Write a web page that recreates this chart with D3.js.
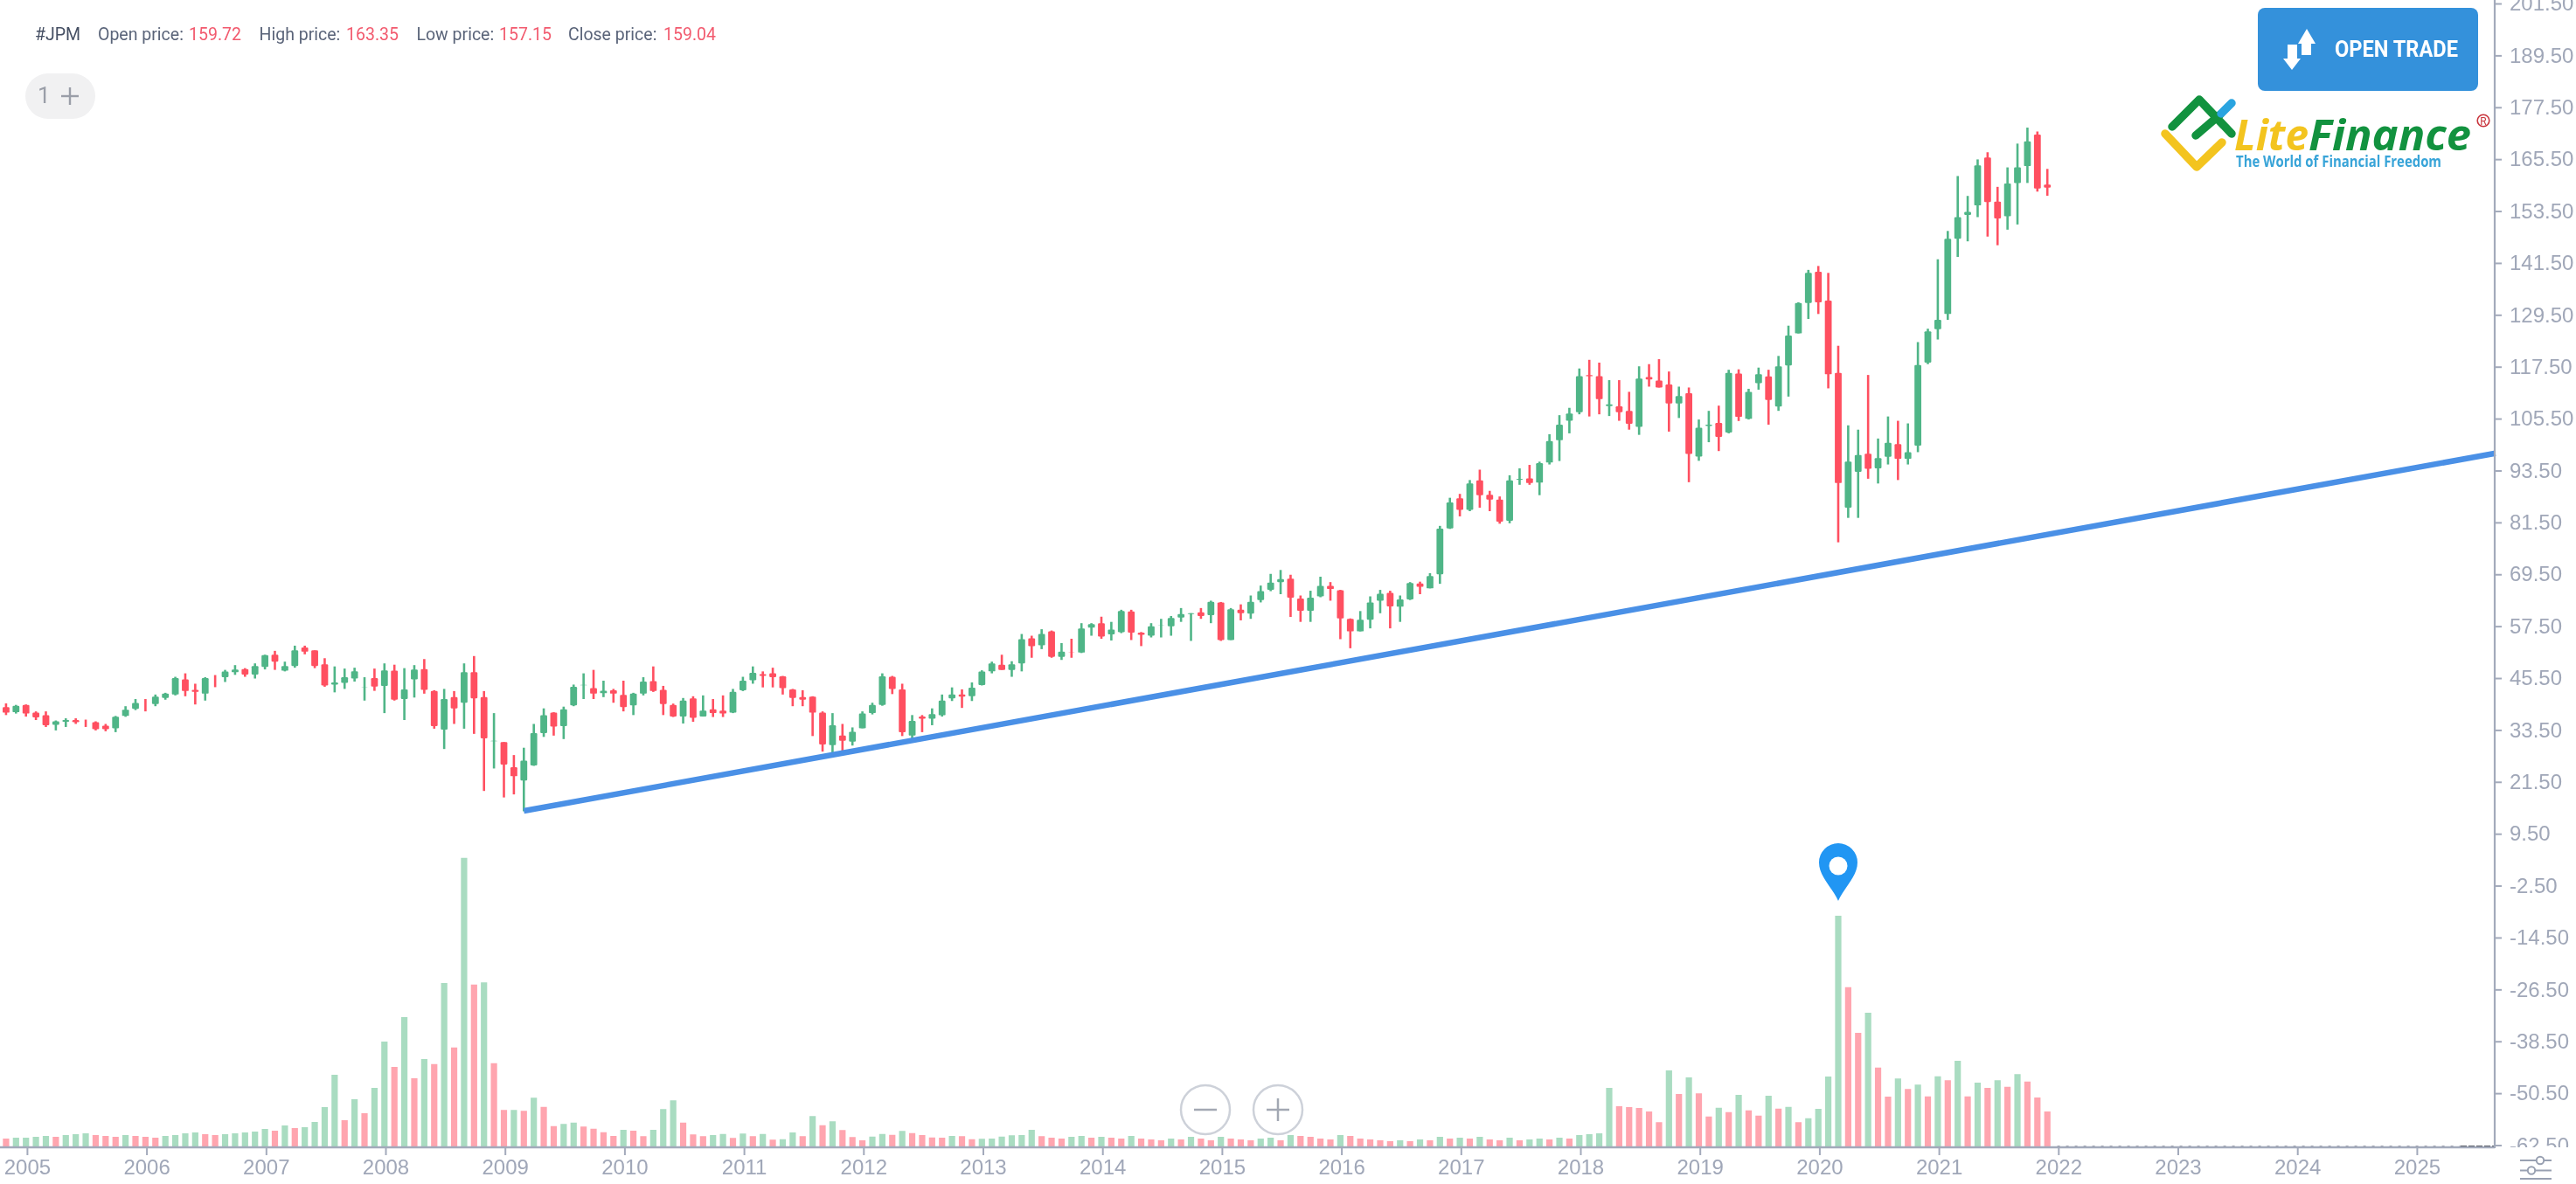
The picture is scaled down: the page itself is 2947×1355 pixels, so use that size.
<!DOCTYPE html>
<html><head><meta charset="utf-8">
<script src="https://cdn.jsdelivr.net/npm/d3@7"></script>
<style>html,body{margin:0;padding:0;background:#fff;overflow:hidden}svg{display:block;filter:blur(0.45px)}</style>
</head><body><svg id="c" width="2947" height="1355"></svg>
<script>
const firstMonth = '2004-10';
const opens = [39.95,38.9,37.7,
39.4,37.6,37,34.8,35.5,35.9,35.2,35.4,34.6,34,36.85,38.5,
39.5,39.6,41,41.8,45.3,42.9,42,45,45.8,46.95,47.7,46.4,
48.2,51,47.3,48.4,52.7,52,48.8,44.1,44.5,45.5,43.4,45.6,
43.8,47.3,40.75,45.3,47.7,42.6,33.7,41.2,39.9,46.95,41.2,31,
30.8,25,21.9,25.4,32.9,37.6,34.5,39.3,43.95,43.3,42.1,42.8,
41.7,39.3,42,44.9,42.9,39.4,36.7,40.9,36.7,38.4,38.06,37.6,
42.8,45.1,46.5,46.7,46,43,41.2,41.3,37.6,30.1,32.3,30.9,
34,37.5,39.4,45.9,43,32.3,36.7,36.2,37,40.9,41.8,41.4,
44,47.15,48.7,47.5,49,54.8,53.2,56.4,50.5,51.5,51.5,57.25,
58.3,55.7,56.2,61,56.1,55.4,57.8,57.6,59.6,60.4,60.8,60.15,
63.1,54.4,61.4,60.5,63.65,66,67.8,68.6,64,61.15,64.5,66.9,
65.9,59.3,56.4,59.1,63.5,65.3,62.1,63.8,67.5,66.35,69.6,80.2,
87.2,84.5,91.3,88,86.9,82,91.5,91.8,90.8,95.45,100.6,105.1,
107.1,115.65,115.4,108.5,108.45,107.4,103.7,115.2,114.4,113.5,109.1,111.5,
96.85,103.9,104.6,102.4,116.05,105.55,113.8,115.35,108.4,117.9,125.3,132.35,
139.55,132.9,116.2,85,93.3,97.5,94.1,96.8,99.7,96.3,99.35,118.55,
126.3,129.8,147.2,152.7,154.9,166,155.8,152.4,160.1,164,171.3,159.72];
const highs = [40.1,39.75,39.4,
39.5,37.9,37.9,35.8,36.3,36.3,36,35.6,35,36.85,39.1,40.75,
40.75,41.8,42.2,45.9,46.7,44.3,45.8,46.3,47.5,48.6,47.9,49,
51,51.9,49.4,53.1,53.1,52,50.2,48.3,47.8,48,45.8,47.8,
49,48.7,47.9,48.6,50,42.8,43.1,42.6,49,50.7,42.6,37.5,
30.8,27.8,29.5,35,38.6,37.7,39,44.1,46.7,47.5,45,43.1,
45,42.2,45.8,48.3,43.8,39.7,41,41.4,41.6,40.75,41.6,43.1,
45.9,48.3,47.15,48,46.1,43.1,42.8,41.4,37.9,37.5,35,34.2,
37.9,39.9,46.7,46.1,44.3,37.05,37.05,38.6,41.8,43.45,43,44.6,
47.4,49.4,51,49.5,55.8,55.4,56.9,56.6,53.7,54.7,58.3,58.3,
59.8,58.6,61.4,61.4,56.25,58.3,59.3,59.95,61.8,60.6,61.8,63.5,
63.2,61.8,62.65,64.7,67,69.7,70.6,69.5,64.7,65.8,69.05,67.8,
66,59.4,61.1,64.5,66,65.8,64.7,67.8,67.9,69.85,80.8,87.3,
88.2,91.4,93.8,88.9,87.6,92.5,94.1,94.9,95.65,102,106.4,108.1,
117.2,119.2,118.55,114.5,114.5,111.8,117.7,118.2,119.35,116.5,113,112.8,
105.4,107.4,108.6,116.9,117,112.5,117.4,116.9,120.1,127.1,132.5,140,
140.9,139.3,122.45,104.05,103.05,115.7,101,106.1,105.1,104.5,123.3,126.4,
142.45,149,161.7,157.1,165.55,167.2,159.2,163.7,169.2,172.9,172,163.35];
const lows = [38.4,37.05,37.4,
36.7,35.9,34.3,33.5,34.3,35,34.3,33.5,33.3,33.1,36.65,38.2,
37.9,39.1,40.6,41.6,41.4,39.5,40.4,43.5,44.7,46.35,45.9,45.5,
47.6,47.5,47.15,48,51.1,47.9,43.6,42.3,43.1,44.8,40.4,42.65,
37.5,40.4,35.9,41.1,42,33.9,29.2,35,33.9,32.7,19.5,24.7,
18,18.7,14.8,25.3,32,32.3,31.5,39.1,40.75,40.75,41.2,39.9,
37.9,37.05,41.6,42.4,37.05,36.6,35.1,35.5,36.7,36.6,36.6,37.5,
42.6,44.3,43.45,43.45,41.8,39.1,39.1,32.2,28.6,28.3,28.3,30,
34,37.2,39.2,41.9,32.2,31.6,33.1,34.7,36.7,40.3,38.7,40.3,
43.9,46.7,47.5,45.9,47.15,50.3,52.3,50.3,49.8,50.3,51.4,55.4,
54.7,54.3,56,54.4,53,55,55,55.4,58.6,54.2,59.3,58.3,
54.2,54.4,58.95,59.3,63.1,65.7,65,59.75,58.6,58.6,64.3,63.5,
54.6,52.5,56.4,57.1,60.6,57.1,58.6,63.65,65,66.35,67.4,80.1,
83,84.2,85,84.2,81.3,81.4,90.3,90.3,87.9,95,95.8,102.2,
106.6,106.1,106.6,106.2,105.1,103.05,101.85,113,112.8,102.6,105.75,90.9,
95.85,100.15,98.1,102.2,105.05,105.4,112.3,104.2,107.4,110.7,125.3,128.65,
129.8,112.6,77,82.65,82.65,91.7,90.6,95,91.4,95,97.85,118.2,
123.9,128.45,143,146.6,152.2,147.7,145.7,149.3,150.5,160.1,158.1,157.15];
const closes = [38.7,37.6,39.2,
37.4,36.5,34.7,35.6,35.9,35.4,35.18,33.8,33.8,36.65,38.3,39.85,
39.48,41.3,42,45.6,42.6,42.4,45.6,44.98,47.1,47.6,46.4,48.4,
50.9,49.4,48.4,52,51.7,48.4,43.9,44.6,45.8,47.15,43.45,43.65,
47.35,40.6,43,47.6,42.9,34.5,40.75,38.6,46.95,40.9,31.65,31.1,
25.6,22.9,26.5,32.9,37,34.4,38.4,43.6,44.05,42,42.7,42,
38.9,42,44.8,42.6,39.6,36.7,40.4,36.4,38.06,37.5,37.4,42.4,
45,46.8,46.1,45.8,43.3,41,40.6,37.6,30.25,34.7,31.1,33.2,
37.4,39.4,46,43.1,33.1,35.7,36.2,37.25,40.4,41.8,41.3,43.4,
47.1,49,47.5,48.8,54.6,53,55.8,50.5,51.7,51.48,57.05,58.1,
55.2,56.8,61.1,56.1,55.6,57.6,57.82,59.5,60.4,60.6,59.95,63.25,
54.4,61.5,60.6,63.25,65.7,67.7,68.5,64.2,61.15,64.2,66.9,66.2,
59.4,56.4,59.1,63.1,65.1,62.2,63.8,67.6,66.7,69.2,80.15,86.2,
84.5,90.6,87.9,86.9,81.8,91.3,91.7,90.7,95.3,100.4,104.2,106.8,
115.4,115.4,110.1,108.9,107.1,104.4,114.85,114.65,112.8,109.1,110.8,97.45,
103.5,104.2,101.4,116.2,106,111.8,115.85,109.9,117.7,124.8,132.35,139.3,
132.5,115.85,90.7,95.65,97.2,94,96.5,100,96.3,97.85,118,125.8,
128.45,147.2,152.2,153.4,164.15,155.7,151.9,160,163.7,169.7,158.8,159.04];
const volumes = [44,36,40,
40,44,48,44,52,56,60,52,48,44,52,48,
44,40,48,52,60,64,56,52,56,60,64,68,
80,72,96,84,88,112,180,328,120,216,152,268,
480,364,592,312,400,377,748,453,1321,741,751,381,
167,167,163,223,181,93,103,109,91,81,65,48,
76,72,47,76,171,211,109,55,47,52,57,39,
59,47,57,31,33,64,47,139,97,115,75,43,
28,45,57,53,71,61,52,41,40,48,47,33,
35,36,45,51,52,76,47,40,36,44,48,40,
44,40,36,48,36,32,28,36,32,44,36,28,
44,36,32,28,36,40,28,52,48,44,36,32,
52,48,36,32,28,24,28,24,32,28,44,36,
40,36,44,32,28,40,28,32,36,32,40,36,
52,56,60,268,184,180,176,160,111,348,240,316,
243,137,177,157,236,165,141,232,173,181,111,129,
172,320,1056,729,520,612,361,228,311,263,283,229,
321,303,392,229,292,268,303,273,331,297,224,160];
const priceTicks = [201.5,189.5,177.5,165.5,153.5,141.5,129.5,117.5,105.5,93.5,81.5,69.5,57.5,45.5,33.5,21.5,9.5,-2.5,-14.5,-26.5,-38.5,-50.5,-62.5];
const yearTicks = [2005,2006,2007,2008,2009,2010,2011,2012,2013,2014,2015,2016,2017,2018,2019,2020,2021,2022,2023,2024,2025];
const trendMonths = ['2009-03','2025-09'];
const trendValues = [14.9,97.6];
const pinMonth = '2020-03';
const legendLabels = ['Open price:','High price:','Low price:','Close price:'];
const legendValues = ['159.72','163.35','157.15','159.04'];

const monthIndex = s => { const [y,m] = s.split('-').map(Number); return (y-2005)*12 + m-1; };
const start = monthIndex(firstMonth);
const W = 2947, H = 1355, axisX = 2854, baseY = 1313;
const x = d3.scaleLinear().domain([0,240]).range([29.7,2763.7]);
const y = d3.scaleLinear().domain([201.5,-62.5]).range([4.5,1311]);
const volY = d3.scaleLinear().domain([0,1320]).range([baseY-1,baseY-331]);
const GREEN='#4fb587', RED='#ff4f60', VGREEN='#a9dcc1', VRED='#ffa5af', AX='#a3aabb', TXT='#a0a7b8';
const candles = opens.map((o,i)=>({m:start+i,o,h:highs[i],l:lows[i],c:closes[i]}));
const vols = volumes.map((v,i)=>({m:start+i,v,up:i===0||v>=volumes[i-1]}));
const svg = d3.select('#c');
const defs = svg.append('defs');
defs.append('clipPath').attr('id','axisClip').append('rect').attr('x',axisX).attr('y',0).attr('width',W-axisX).attr('height',baseY);

// volume
svg.append('g').selectAll('rect').data(vols).join('rect')
  .attr('x',d=>x(d.m)-3.6).attr('width',7.2)
  .attr('y',d=>volY(d.v)).attr('height',d=>volY(0)-volY(d.v))
  .attr('fill',d=>d.up?VGREEN:VRED);

// future-volume specks on the baseline
svg.append('line').attr('x1',x(monthIndex('2022-01'))).attr('x2',2815).attr('y1',baseY-1).attr('y2',baseY-1)
  .attr('stroke','#7b8190').attr('stroke-width',1.6).attr('stroke-dasharray','3 7');
svg.append('line').attr('x1',2815).attr('x2',axisX).attr('y1',baseY-1).attr('y2',baseY-1)
  .attr('stroke','#3c4048').attr('stroke-width',2).attr('stroke-dasharray','7 2');

// candles
const cg = svg.append('g');
cg.selectAll('line').data(candles).join('line')
  .attr('x1',d=>x(d.m)).attr('x2',d=>x(d.m)).attr('y1',d=>y(d.h)).attr('y2',d=>y(d.l))
  .attr('stroke',d=>d.c>=d.o?GREEN:RED).attr('stroke-width',2.6);
cg.selectAll('rect').data(candles).join('rect')
  .attr('x',d=>x(d.m)-3.9).attr('width',7.8).attr('rx',1.2)
  .attr('y',d=>y(Math.max(d.o,d.c))).attr('height',d=>Math.abs(y(d.o)-y(d.c)))
  .attr('fill',d=>d.c>=d.o?GREEN:RED);

// trend line
svg.append('path').datum(trendMonths.map((m,i)=>({m:monthIndex(m),v:trendValues[i]})))
  .attr('fill','none').attr('stroke','#4a90e6').attr('stroke-width',6.5)
  .attr('d',d3.line().x(d=>x(d.m)).y(d=>y(d.v)));

// pin
const pinIdx = monthIndex(pinMonth);
const pin = svg.append('g').attr('transform',`translate(${x(pinIdx)},${volY(volumes[pinIdx-start])-17})`);
pin.append('path').attr('d','M0,0 C-6,-14 -22,-28 -22,-44 A22,22 0 1 1 22,-44 C22,-28 6,-14 0,0 Z').attr('fill','#2196f3');
pin.append('circle').attr('cy',-40).attr('r',10.5).attr('fill','#fff');

// zoom buttons
const zb = svg.append('g');
[1379,1462].forEach((cx,i)=>{
  zb.append('circle').attr('cx',cx).attr('cy',1270).attr('r',28).attr('fill','#fff').attr('fill-opacity',.55).attr('stroke','#cdd1d9').attr('stroke-width',2.5);
  zb.append('line').attr('x1',cx-13).attr('x2',cx+13).attr('y1',1270).attr('y2',1270).attr('stroke','#a3a8b3').attr('stroke-width',2.5);
  if(i) zb.append('line').attr('x1',cx).attr('x2',cx).attr('y1',1257).attr('y2',1283).attr('stroke','#a3a8b3').attr('stroke-width',2.5);
});

// axes
const yAxis = d3.axisRight(y).tickValues(priceTicks).tickFormat(d=>d.toFixed(2)).tickSize(8).tickPadding(9);
const yg = svg.append('g').call(yAxis);
yg.select('.domain').remove();
yg.selectAll('line').attr('stroke',AX).attr('stroke-width',2);
yg.selectAll('text').attr('fill',TXT).attr('font-family','"Liberation Sans",Arial,sans-serif').attr('font-size',24);
yg.selectAll('.tick').attr('transform',d=>`translate(${axisX},${y(d)})`);
yg.attr('clip-path','url(#axisClip)');
const xAxis = d3.axisBottom(x).tickValues(yearTicks.map(v=>(v-2005)*12)).tickFormat(d=>String(2005+d/12)).tickSize(9).tickPadding(5);
const xg = svg.append('g').attr('transform',`translate(1.2,${baseY})`).call(xAxis);
xg.select('.domain').remove();
xg.selectAll('line').attr('stroke',AX).attr('stroke-width',2);
xg.selectAll('text').attr('fill',TXT).attr('font-family','"Liberation Sans",Arial,sans-serif').attr('font-size',24);
svg.append('line').attr('x1',axisX).attr('x2',axisX).attr('y1',0).attr('y2',baseY+1).attr('stroke',AX).attr('stroke-width',2.2);
svg.append('line').attr('x1',0).attr('x2',axisX).attr('y1',baseY).attr('y2',baseY).attr('stroke',AX).attr('stroke-width',2.4);

// legend
const lg = svg.append('g').attr('font-family','Roboto,sans-serif').attr('font-size',19.5);
const txt=(g,xx,yy,s,fill)=>g.append('text').attr('x',xx).attr('y',yy).attr('fill',fill).text(s);
txt(lg,40,46,'#JPM','#454f63');
[[112,216],[296.6,396],[476.5,571],[650,759]].forEach((p,i)=>{
  txt(lg,p[0],46,legendLabels[i],'#5a6479');
  txt(lg,p[1],46,legendValues[i],'#f25a6e');
});
svg.append('rect').attr('x',29).attr('y',84).attr('width',80).attr('height',52).attr('rx',26).attr('fill','#f1f1f2');
svg.append('text').attr('x',43).attr('y',118).attr('fill','#9a9ea8').attr('font-family','Roboto,sans-serif').attr('font-size',26).text('1');
svg.append('line').attr('x1',70).attr('x2',90).attr('y1',110).attr('y2',110).attr('stroke','#9a9ea8').attr('stroke-width',2.4);
svg.append('line').attr('x1',80).attr('x2',80).attr('y1',100).attr('y2',120).attr('stroke','#9a9ea8').attr('stroke-width',2.4);

// button
svg.append('rect').attr('x',2583).attr('y',9).attr('width',252).attr('height',95).attr('rx',8).attr('fill','#3491db');
svg.append('path').attr('fill','#fff').attr('d','M2639,33 L2649,50 L2644,50 L2644,63 L2633,63 L2633,50 L2629,50 Z');
svg.append('path').attr('fill','#fff').attr('d','M2622,80 L2612,67 L2617,67 L2617,51 L2628,51 L2628,67 L2632,67 Z');
svg.append('text').attr('x',2671).attr('y',65).attr('fill','#fff').attr('font-family','Roboto,sans-serif').attr('font-weight',700)
  .attr('font-size',25).attr('textLength',141).attr('lengthAdjust','spacingAndGlyphs').text('OPEN TRADE');

// logo
const lp=(d,c)=>svg.append('path').attr('d',d).attr('fill','none').attr('stroke',c).attr('stroke-width',9.5).attr('stroke-linecap','round').attr('stroke-linejoin','round');
lp('M2477,153 L2513,191 L2542,163','#f3c41f');
lp('M2485,145 L2516,114 L2553,153','#12923f');
lp('M2512,155 L2540,131','#12923f');
lp('M2541,130 L2553,118','#2aa4e0');
const lg2=svg.append('g').attr('font-family','"Open Sans",sans-serif').attr('font-style','italic').attr('font-weight',700).attr('font-size',48);
lg2.append('text').attr('x',2556).attr('y',172).attr('fill','#f3c41f').attr('textLength',85).attr('lengthAdjust','spacingAndGlyphs').text('Lite');
lg2.append('text').attr('x',2641).attr('y',172).attr('fill','#12923f').attr('textLength',186).attr('lengthAdjust','spacingAndGlyphs').text('Finance');
svg.append('text').attr('x',2558).attr('y',191).attr('fill','#38a4d8').attr('font-family','"Open Sans",sans-serif').attr('font-weight',700).attr('font-size',17.5)
  .attr('textLength',235).attr('lengthAdjust','spacingAndGlyphs').text('The World of Financial Freedom');
svg.append('circle').attr('cx',2841).attr('cy',138).attr('r',6.8).attr('fill','none').attr('stroke','#c9353d').attr('stroke-width',1.6);
svg.append('text').attr('x',2841).attr('y',142.5).attr('text-anchor','middle').attr('fill','#c9353d').attr('font-family','Roboto,sans-serif').attr('font-size',12).text('R');

// settings icon
[[1328,2906],[1339.5,2896]].forEach(([yy,cx])=>{
  svg.append('line').attr('x1',2883).attr('x2',2919).attr('y1',yy).attr('y2',yy).attr('stroke','#98a0b1').attr('stroke-width',2);
  svg.append('circle').attr('cx',cx).attr('cy',yy).attr('r',4.2).attr('fill','#fff').attr('stroke','#98a0b1').attr('stroke-width',2);
});
svg.append('line').attr('x1',2883).attr('x2',2919).attr('y1',1349).attr('y2',1349).attr('stroke','#98a0b1').attr('stroke-width',2);
</script></body></html>
